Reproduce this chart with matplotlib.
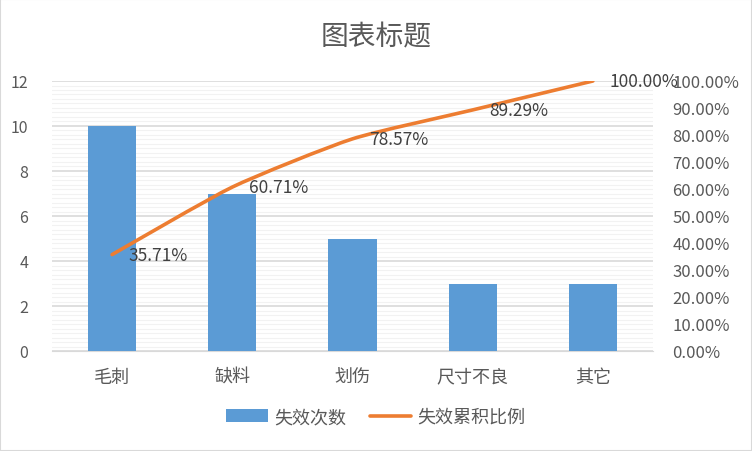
import matplotlib
matplotlib.use("Agg")
import matplotlib.pyplot as plt
from matplotlib.ticker import MultipleLocator, FuncFormatter
from matplotlib.patches import Rectangle, PathPatch
from matplotlib.path import Path
from matplotlib.lines import Line2D
import numpy as np

plt.rcParams['font.family'] = ['Noto Sans CJK SC', 'DejaVu Sans']

# 数据
categories = ["毛刺", "缺料", "划伤", "尺寸不良", "其它"]
counts = [10, 7, 5, 3, 3]
cum_pct = [35.71, 60.71, 78.57, 89.29, 100.00]

bar_color = "#5B9BD5"
line_color = "#ED7D31"
text_color = "#595959"


def smooth_path(xs, ys, k=10):
    # 平滑折线 (Catmull-Rom -> 三次贝塞尔, 张力较小)
    pts = np.column_stack([xs, ys]).astype(float)
    ext = np.vstack([pts[0], pts, pts[-1]])
    verts = [tuple(pts[0])]
    codes = [Path.MOVETO]
    for i in range(1, len(ext) - 2):
        p0, p1, p2, p3 = ext[i - 1], ext[i], ext[i + 1], ext[i + 2]
        c1 = p1 + (p2 - p0) / k
        c2 = p2 - (p3 - p1) / k
        verts += [tuple(c1), tuple(c2), tuple(p2)]
        codes += [Path.CURVE4] * 3
    return Path(verts, codes)


fig = plt.figure(figsize=(7.52, 4.52), dpi=100)
ax = fig.add_axes([52 / 752, 1 - 352 / 452, 601 / 752, 270 / 452])
ax2 = ax.twinx()

x = np.arange(len(categories))
ax.bar(x, counts, width=0.4, color=bar_color, zorder=3, label="失效次数")
ax.set_xlim(-0.5, len(categories) - 0.5)
ax.set_ylim(0, 12)
ax.yaxis.set_major_locator(MultipleLocator(2))
ax.yaxis.set_minor_locator(MultipleLocator(0.2))
ax.grid(axis='y', which='major', color="#D9D9D9", linewidth=1.2, zorder=0)
ax.grid(axis='y', which='minor', color="#F2F2F2", linewidth=0.8, zorder=0)
ax.set_axisbelow(True)
ax.set_xticks(x)
ax.set_xticklabels(categories, fontsize=13, color=text_color, fontweight='light')
ax.tick_params(axis='both', which='both', length=0)
ax.tick_params(axis='y', labelsize=11.5, labelcolor=text_color, pad=17)
ax.tick_params(axis='x', pad=12)
for s in ax.spines.values():
    s.set_visible(False)
ax.spines['bottom'].set_visible(True)
ax.spines['bottom'].set_color("#D9D9D9")

ax2.add_patch(PathPatch(smooth_path(x, cum_pct), fill=False, edgecolor=line_color,
                        linewidth=2.6, capstyle='round', zorder=4))
ax2.set_ylim(0, 100)
ax2.yaxis.set_major_locator(MultipleLocator(10))
ax2.yaxis.set_major_formatter(FuncFormatter(lambda v, p: f"{v:.2f}%"))
ax2.tick_params(axis='y', length=0, labelsize=12, labelcolor=text_color, pad=14)
for s in ax2.spines.values():
    s.set_visible(False)
for xi, v in zip(x, cum_pct):
    ax2.annotate(f"{v:.2f}%", (xi, v), xytext=(12, 0), textcoords='offset points',
                 ha='left', va='center', fontsize=12.5, color="#404040", zorder=5)

fig.text(0.5, 1 - 37 / 452, "图表标题", ha='center', va='center', fontsize=20,
         color=text_color, fontweight='light')

h1, l1 = ax.get_legend_handles_labels()
line_handle = Line2D([], [], color=line_color, linewidth=2.6, solid_capstyle='round')
fig.legend(h1 + [line_handle], l1 + ["失效累积比例"], loc='center',
           bbox_to_anchor=(0.5, 1 - 418 / 452), ncol=2,
           frameon=False, fontsize=13, labelcolor=text_color, handlelength=2.3,
           columnspacing=1.3, handletextpad=0.35)

fig.patches.append(Rectangle((0, 0), 1, 1, transform=fig.transFigure, fill=False,
                             edgecolor="#D9D9D9", linewidth=1.5))

fig.savefig("out.png", dpi=100)
